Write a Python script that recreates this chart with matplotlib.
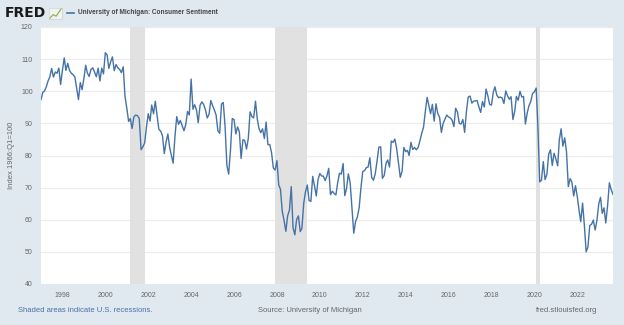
import numpy as np
import pandas as pd
import matplotlib
matplotlib.use('Agg')
import matplotlib.pyplot as plt
import matplotlib.dates as mdates

plt.rcParams['font.family'] = ['Liberation Sans', 'DejaVu Sans']

# monthly values, Jan 1997 .. Sep 2023
sentiment = [
    97.4, 99.7, 100.0, 101.4, 103.2, 104.5, 107.1, 104.4, 106.0, 105.6, 107.2, 102.1,
    106.6, 110.4, 106.5, 108.7, 106.5, 105.6, 105.2, 104.4, 100.9, 97.4, 102.7, 100.5,
    103.9, 108.1, 105.7, 104.6, 106.8, 107.3, 106.0, 104.5, 107.2, 103.2, 107.2, 105.4,
    112.0, 111.3, 107.1, 109.2, 110.7, 106.4, 108.3, 107.3, 106.8, 105.8, 107.6, 98.4,
    94.7, 90.6, 91.5, 88.4, 92.0, 92.6, 92.4, 91.5, 81.8, 82.7, 83.9, 88.8,
    93.0, 90.7, 95.7, 93.0, 96.9, 92.4, 88.1, 87.6, 86.1, 80.6, 84.2, 86.7,
    82.4, 79.9, 77.6, 86.0, 92.1, 89.7, 90.9, 89.3, 87.7, 89.6, 93.7, 92.6,
    103.8, 94.4, 95.8, 94.2, 90.2, 95.6, 96.7, 95.9, 94.2, 91.7, 92.8, 97.1,
    95.5, 94.1, 92.6, 87.7, 86.9, 96.0, 96.5, 89.1, 76.9, 74.2, 81.6, 91.5,
    91.2, 86.7, 88.9, 87.4, 79.1, 84.9, 84.7, 82.0, 85.4, 93.6, 92.1, 91.7,
    96.9, 91.3, 88.4, 87.1, 88.3, 85.3, 90.4, 83.4, 83.4, 80.9, 76.1, 75.5,
    78.4, 70.8, 69.5, 62.6, 59.8, 56.4, 61.2, 63.0, 70.3, 57.6, 55.3, 60.1,
    61.2, 56.3, 57.3, 65.1, 68.7, 70.8, 66.0, 65.7, 73.5, 70.6, 67.4, 72.5,
    74.4, 73.6, 73.6, 72.2, 73.6, 76.0, 67.8, 68.9, 68.2, 67.7, 71.6, 74.5,
    74.2, 77.5, 67.5, 69.8, 74.3, 71.5, 63.7, 55.8, 59.5, 60.8, 63.7, 69.9,
    75.0, 75.3, 76.2, 76.4, 79.3, 73.2, 72.3, 74.3, 78.3, 82.6, 82.7, 72.9,
    73.8, 77.6, 78.6, 76.4, 84.5, 84.1, 85.1, 82.1, 77.5, 73.2, 75.1, 82.5,
    81.2, 81.6, 80.0, 84.1, 81.9, 82.5, 81.8, 82.5, 84.6, 86.9, 88.8, 93.6,
    98.1, 95.4, 93.0, 95.9, 90.7, 96.1, 93.1, 91.9, 87.2, 90.0, 91.3, 92.6,
    92.0, 91.7, 91.0, 89.0, 94.7, 93.5, 90.0, 89.8, 91.2, 87.2, 93.8, 98.2,
    98.5, 96.3, 96.9, 97.0, 97.1, 95.1, 93.4, 96.8, 95.1, 100.7, 98.5, 95.9,
    95.7, 99.7, 101.4, 98.8, 98.0, 98.2, 97.9, 96.2, 100.1, 98.6, 97.5, 98.3,
    91.2, 93.8, 98.4, 97.2, 100.0, 98.2, 98.4, 89.8, 93.2, 95.5, 96.8, 99.3,
    99.8, 101.0, 89.1, 71.8, 72.3, 78.1, 72.5, 74.1, 80.4, 81.8, 76.9, 80.7,
    79.0, 76.8, 84.9, 88.3, 82.9, 85.5, 81.2, 70.3, 72.8, 71.7, 67.4, 70.6,
    67.2, 62.8, 59.4, 65.2, 58.4, 50.0, 51.5, 58.2, 58.6, 59.9, 56.8, 59.7,
    64.9, 67.0, 62.0, 63.7, 59.0, 64.4, 71.5, 69.4, 67.9,
]
dates = pd.date_range('1997-01-01', periods=len(sentiment), freq='MS')

recessions = [('2001-03-01', '2001-11-01'),
              ('2007-12-01', '2009-06-01'),
              ('2020-02-01', '2020-04-01')]

bg = '#e1e9f0'
line_col = '#4572a7'

fig = plt.figure(figsize=(6.24, 3.25), dpi=100, facecolor=bg)
ax = fig.add_axes([41 / 624, 1 - 284 / 325, 572 / 624, 257 / 325])
ax.set_facecolor('white')

for start, end in recessions:
    ax.axvspan(pd.Timestamp(start), pd.Timestamp(end), color='#e1e1e1', lw=0, zorder=1)

ax.plot(dates, sentiment, color=line_col, lw=1.0, zorder=3)

ax.set_ylim(40, 120)
ax.set_yticks(range(40, 121, 10))
ax.set_xlim(dates[0], dates[-1])
ax.xaxis.set_major_locator(mdates.YearLocator(2))
ax.xaxis.set_major_formatter(mdates.DateFormatter('%Y'))
ax.grid(axis='y', color='#ececec', lw=0.8, zorder=0)
ax.set_axisbelow(True)
for s in ax.spines.values():
    s.set_visible(False)
ax.tick_params(axis='both', length=0, labelsize=5, labelcolor='#666666', pad=6)
ax.set_ylabel('Index 1966:Q1=100', fontsize=5.5, color='#666666', labelpad=4)

# header
fig.text(5 / 624, 1 - 13 / 325, 'FRED', fontsize=10, fontweight='black',
         family='DejaVu Sans', color='#1a1a1a', va='center', ha='left')
icon = fig.add_axes([49 / 624, 1 - 19 / 325, 13 / 624, 11 / 325])
icon.set_facecolor('#f2f2f2')
icon.plot([0, 0.3, 0.55, 1], [0.2, 0.45, 0.35, 0.85], color='#7cb342', lw=0.8)
icon.set_xticks([])
icon.set_yticks([])
for s in icon.spines.values():
    s.set_color('#cccccc')
    s.set_linewidth(0.4)
fig.lines.append(plt.Line2D([67 / 624, 74 / 624], [1 - 13 / 325] * 2,
                            transform=fig.transFigure, color=line_col, lw=1.2))
fig.text(78 / 624, 1 - 13 / 325, 'University of Michigan: Consumer Sentiment',
         fontsize=4.7, fontweight='bold', color='#444444', va='center')

# footer
fig.text(18 / 624, 1 - 311 / 325, 'Shaded areas indicate U.S. recessions.',
         fontsize=5.5, color='#4a6fa5', va='center')
fig.text(258 / 624, 1 - 311 / 325, 'Source: University of Michigan',
         fontsize=5.5, color='#666666', va='center')
fig.text(597 / 624, 1 - 311 / 325, 'fred.stlouisfed.org',
         fontsize=5.5, color='#666666', va='center', ha='right')

fig.savefig('out.png', dpi=100, facecolor=bg)
